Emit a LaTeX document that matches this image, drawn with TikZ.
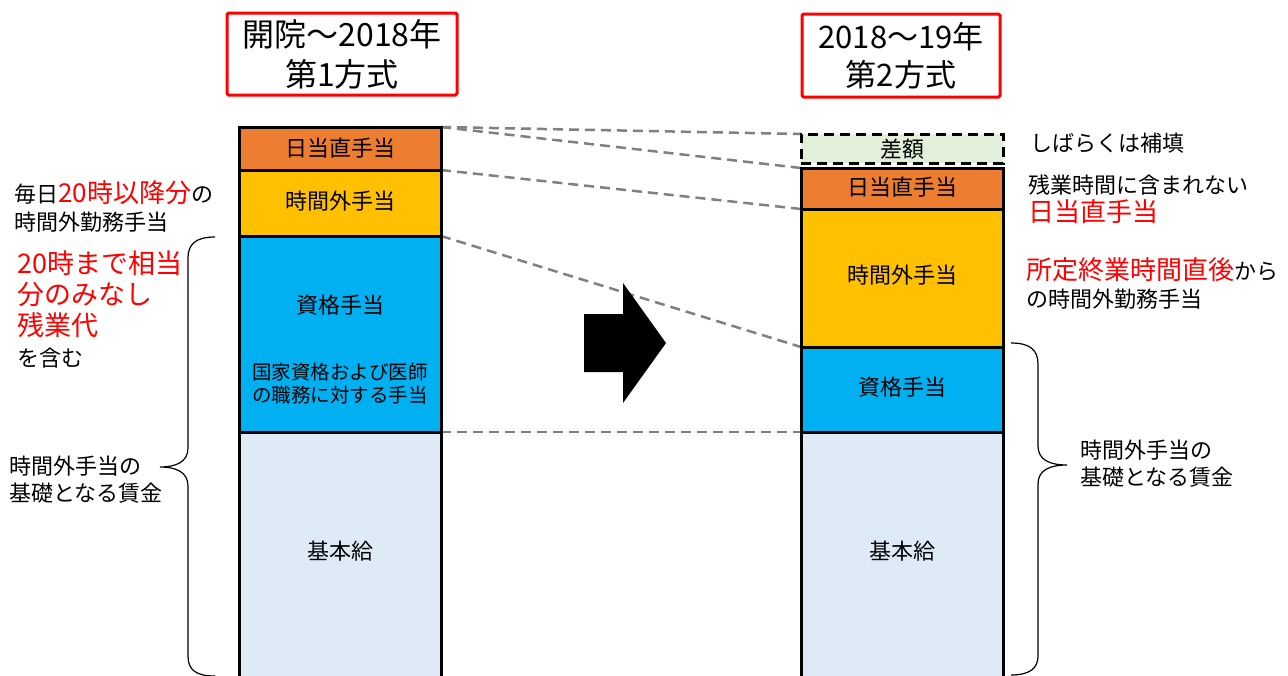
\documentclass[tikz,border=0pt]{standalone}
\usepackage{fontspec}
\setmainfont{Noto Sans CJK JP}
\usetikzlibrary{backgrounds}
\definecolor{cOrange}{HTML}{ED7D31}
\definecolor{cGold}{HTML}{FFC000}
\definecolor{cCyan}{HTML}{00B0F0}
\definecolor{cPale}{HTML}{DEEBF7}
\definecolor{cGreen}{HTML}{E2F0D9}
\definecolor{cRed}{HTML}{FF0000}
\definecolor{cDash}{HTML}{808080}
\newcommand\myfs[2]{\fontsize{#1}{#2}\selectfont}
\newcommand\redbig[1]{{\color{cRed}\myfs{26}{28}#1}}
\begin{document}
\begin{tikzpicture}[x=1pt,y=-1pt,
  seg/.style={draw=black, line width=3pt, minimum width=202pt, inner sep=0pt, outer sep=0pt},
  lbl/.style={inner sep=0pt, font=\myfs{22}{28}},
  side/.style={inner sep=0pt, anchor=west, align=left},
  conn/.style={draw=cDash, line width=2.5pt, dash pattern=on 10pt off 6pt},
  titlebox/.style={draw=cRed, line width=3pt, rounded corners=1.5pt, align=center, inner sep=0pt},
  brace/.style={draw=black, line width=1.2pt}]
\useasboundingbox (0,0) rectangle (1288,675);

% titles
\node[titlebox, minimum width=230pt, minimum height=82pt, font=\myfs{32}{40}] (t1) at (342,54) {開院～2018年\\第1方式};
\node[titlebox, minimum width=198pt, minimum height=83pt, font=\myfs{31}{38}] (t2) at (901,55.5) {2018～19年\\第2方式};

% left column
\node[seg, fill=cOrange, minimum height=43pt] (l1) at (340,148.5) {};
\node[seg, fill=cGold, minimum height=66pt] (l2) at (340,203) {};
\node[seg, fill=cCyan, minimum height=196pt] (l3) at (340,334) {};
\node[seg, fill=cPale, minimum height=250pt] (l4) at (340,557) {};
\node[lbl] (l1t) at (l1.center) {日当直手当};
\node[lbl] (l2t) at (340,201) {時間外手当};
\node[lbl] (l3t) at (340,305) {資格手当};
\node[lbl, font=\myfs{19.5}{23}, align=center] (l3s) at (340,383.5) {国家資格および医師\\の職務に対する手当};
\node[lbl] (l4t) at (340,551) {基本給};

% right column
\node[seg, fill=cGreen, minimum height=29pt, dash pattern=on 10pt off 6pt] (r0) at (902,148.5) {};
\node[seg, fill=cOrange, minimum height=41pt] (r1) at (902,188.5) {};
\node[seg, fill=cGold, minimum height=138pt] (r2) at (902,278) {};
\node[seg, fill=cCyan, minimum height=85pt] (r3) at (902,389.5) {};
\node[seg, fill=cPale, minimum height=250pt] (r4) at (902,557) {};
\node[lbl] (r0t) at (902,149) {差額};
\node[lbl] (r1t) at (902,187) {日当直手当};
\node[lbl] (r2t) at (902,275) {時間外手当};
\node[lbl] (r3t) at (902,387) {資格手当};
\node[lbl] (r4t) at (902,551) {基本給};

% connectors
\begin{scope}[on background layer]
\draw[conn] (l1.north east) -- (r0.north west);
\draw[conn] (l1.north east) -- (r1.north west);
\draw[conn] (l1.south east) -- (r1.south west);
\draw[conn] (l2.south east) -- (r2.south west);
\draw[conn] (l3.south east) -- (r3.south west);
\end{scope}

% block arrow
\fill[black] (584,314) -- (623,314) -- (623,283) -- (666,343) -- (623,403) -- (623,372) -- (584,372) -- cycle;

% braces
\draw[brace] (215,237) .. controls (196,237) and (188,244) .. (188,258) -- (188,448)
  .. controls (188,462) and (176,467) .. (160,467)
  .. controls (176,467) and (188,472) .. (188,486) -- (188,656)
  .. controls (188,670) and (196,676) .. (215,676);
\draw[brace] (1011,343) .. controls (1030,343) and (1038,350) .. (1038,364) -- (1038,446)
  .. controls (1038,460) and (1050,465) .. (1067,465)
  .. controls (1050,465) and (1038,470) .. (1038,484) -- (1038,656)
  .. controls (1038,668) and (1030,675) .. (1011,675);

% left side labels
\node[side, font=\myfs{22}{28}] (a1) at (14,206) {毎日\redbig{20時以降分}の\\時間外勤務手当};
\node[side, font=\myfs{27}{31}, text=cRed] (a2) at (17,310) {20時まで相当\\分のみなし\\残業代\\{\color{black}\myfs{22}{29}を含む}};
\node[side, font=\myfs{22}{27}] (a3) at (9,480) {時間外手当の\\基礎となる賃金};

% right side labels
\node[side, font=\myfs{22}{28}] (b1) at (1030,143) {しばらくは補填};
\node[side, font=\myfs{22}{28}] (b2) at (1028,199) {残業時間に含まれない\\\redbig{日当直手当}};
\node[side, font=\myfs{22}{28}] (b3) at (1026,283) {\redbig{所定終業時間直後}から\\の時間外勤務手当};
\node[side, font=\myfs{22}{27}] (b4) at (1080,464) {時間外手当の\\基礎となる賃金};
\end{tikzpicture}
\end{document}
